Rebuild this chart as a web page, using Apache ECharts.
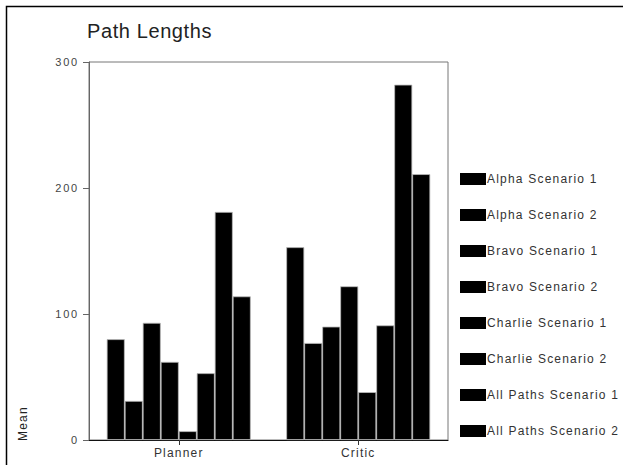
<!DOCTYPE html>
<html>
<head>
<meta charset="utf-8">
<script src="https://cdn.jsdelivr.net/npm/echarts@6/dist/echarts.min.js"></script>
<style>
  html, body { margin: 0; padding: 0; background: #fff; }
  #chart { width: 623px; height: 465px; }
  #chart svg text { letter-spacing: 1.2px; }
  #chart svg text[style*="11px"] { letter-spacing: 1.8px; }
  #chart svg text[style*="20px"] { letter-spacing: 0.6px; }
</style>
</head>
<body>
<div id="chart"></div>
<script>
const categories = ['Planner', 'Critic'];
const seriesNames = [
  'Alpha Scenario 1', 'Alpha Scenario 2',
  'Bravo Scenario 1', 'Bravo Scenario 2',
  'Charlie Scenario 1', 'Charlie Scenario 2',
  'All Paths Scenario 1', 'All Paths Scenario 2'
];
const plannerValues = [80, 31, 93, 62, 7, 53, 181, 114];
const criticValues = [153, 77, 90, 122, 38, 91, 282, 211];
const yTicks = { min: 0, max: 300, interval: 100 };

const FONT = 'Liberation Sans, Arial, Helvetica, sans-serif';

const series = seriesNames.map((name, i) => ({
  name: name,
  type: 'bar',
  barWidth: 18,
  barGap: '0%',
  data: [plannerValues[i], criticValues[i]],
  itemStyle: { color: '#000', borderColor: '#bbb', borderWidth: 0.8 },
  emphasis: { disabled: true }
}));

const chart = echarts.init(document.getElementById('chart'), null, { renderer: 'svg' });
chart.setOption({
  animation: false,
  backgroundColor: '#fff',
  title: {
    text: 'Path Lengths',
    left: 87,
    top: 21,
    padding: 0,
    textStyle: { fontFamily: FONT, fontSize: 20, fontWeight: 'normal', color: '#222' }
  },
  grid: {
    left: 89, right: 175, top: 62, bottom: 25,
    show: true, borderColor: '#777', borderWidth: 1,
    containLabel: false
  },
  legend: {
    orient: 'vertical',
    left: 460,
    top: 173,
    padding: 0,
    itemWidth: 26,
    itemHeight: 12,
    itemGap: 24,
    icon: 'rect',
    selectedMode: false,
    data: seriesNames,
    itemStyle: { color: '#000', borderWidth: 0 },
    textStyle: { fontFamily: FONT, fontSize: 12, color: '#333', padding: [0, 0, 0, -4] }
  },
  xAxis: {
    type: 'category',
    data: categories,
    axisLine: { lineStyle: { color: '#111', width: 1.2 } },
    axisTick: { show: true, alignWithLabel: true, length: 5, lineStyle: { color: '#333' } },
    axisLabel: { fontFamily: FONT, fontSize: 12, color: '#333', margin: 7 },
    splitLine: { show: false }
  },
  yAxis: {
    type: 'value',
    min: yTicks.min,
    max: yTicks.max,
    interval: yTicks.interval,
    axisLine: { show: true, lineStyle: { color: '#666' } },
    axisTick: { show: true, length: 6, lineStyle: { color: '#666' } },
    axisLabel: { fontFamily: FONT, fontSize: 11, color: '#444', margin: 10 },
    splitLine: { show: false }
  },
  graphic: [
    {
      type: 'rect',
      z: -10,
      shape: { x: 6.5, y: 6.5, width: 700, height: 600 },
      style: { fill: 'none', stroke: '#000', lineWidth: 1.5 }
    },
    {
      type: 'text',
      x: 29,
      y: 441,
      rotation: Math.PI / 2,
      style: {
        text: 'Mean',
        fontFamily: FONT,
        fontSize: 12,
        fill: '#222',
        textAlign: 'left',
        textVerticalAlign: 'bottom'
      }
    }
  ],
  series: series
});
</script>
</body>
</html>
